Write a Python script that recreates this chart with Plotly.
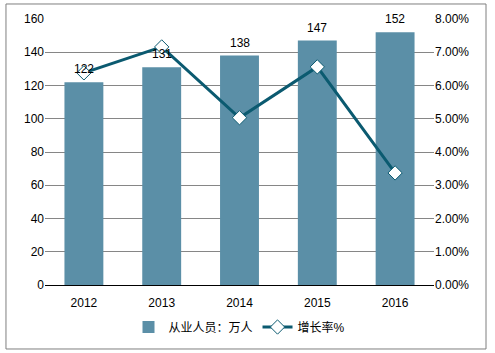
import plotly.graph_objects as go

years = ["2012", "2013", "2014", "2015", "2016"]
employees = [122, 131, 138, 147, 152]
growth = [0.0638, 0.0716, 0.0503, 0.0656, 0.0337]

bar_color = "#5b8fa7"
line_color = "#0b5a70"
font_fam = "Liberation Sans, Arial, Noto Sans CJK SC, sans-serif"

fig = go.Figure()
fig.add_trace(go.Bar(
    x=years, y=employees, name="从业人员：万人",
    marker=dict(color=bar_color, line=dict(width=0)),
    yaxis="y",
))
fig.add_trace(go.Scatter(
    x=years, y=growth, name="增长率%", mode="lines+markers",
    line=dict(color=line_color, width=3),
    marker=dict(symbol="diamond", size=11, color="white",
                line=dict(color=line_color, width=1)),
    yaxis="y2", cliponaxis=False,
))

annotations = [dict(x=i, y=v, xref="x", yref="y", text=str(v),
                    showarrow=False, yanchor="bottom", yshift=4,
                    font=dict(size=12, color="#000000", family=font_fam))
               for i, v in enumerate(employees)]

fig.update_layout(
    width=495, height=353,
    margin=dict(l=45, r=61, t=19, b=68),
    paper_bgcolor="white", plot_bgcolor="white",
    font=dict(family=font_fam, size=12, color="#000000"),
    bargap=0.5,
    showlegend=True,
    legend=dict(orientation="h", x=0.5, xanchor="center", y=-0.158,
                yanchor="middle", font=dict(size=12), traceorder="normal"),
    xaxis=dict(type="category", showgrid=False, showline=False,
               ticks="outside", ticklen=7,
               tickcolor="white", tickfont=dict(size=12)),
    yaxis=dict(range=[0, 160], dtick=20, showgrid=True, gridcolor="#868686",
               gridwidth=1, zeroline=True, zerolinecolor="#000000",
               zerolinewidth=1, showline=False, ticks="", ticklen=0,
               tickfont=dict(size=12)),
    yaxis2=dict(range=[0, 0.08], dtick=0.01, tickformat=".2%",
                overlaying="y", side="right", showgrid=False,
                zeroline=False, showline=False, tickfont=dict(size=12)),
    annotations=annotations,
    shapes=[dict(type="rect", xref="paper", yref="paper",
                 x0=-0.1003, x1=1.1337, y0=-0.2406, y1=1.0564,
                 line=dict(color="#7f7f7f", width=1), layer="below")],
)

fig.write_html("out.html")
